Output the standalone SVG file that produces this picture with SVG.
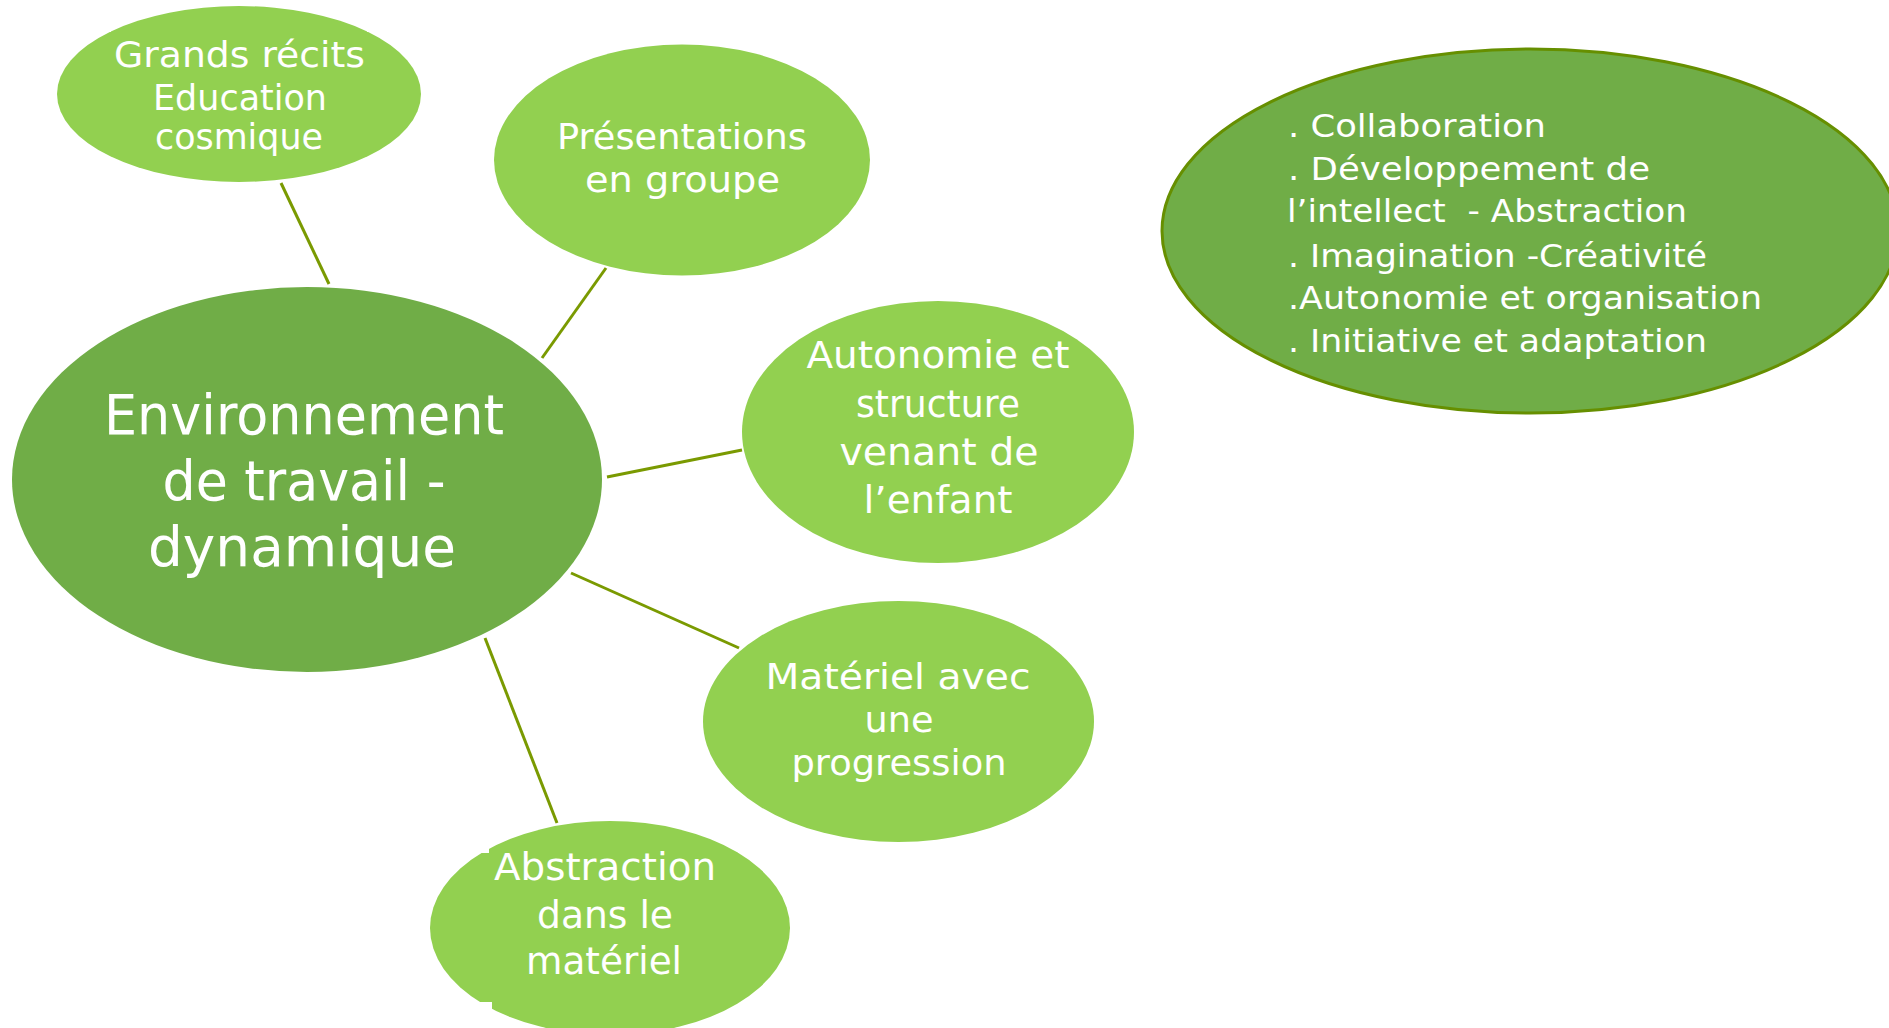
<svg xmlns="http://www.w3.org/2000/svg" width="1889" height="1028" viewBox="0 0 1889 1028">
<style>
.bg{fill:#ffffff}
.dark{fill:#70AD47}
.light{fill:#92D050}
.side{fill:#70AD47;stroke:#668F00;stroke-width:3}
.notch{fill:#ffffff}
.conn line{stroke:#7A9A01;stroke-width:3;stroke-linecap:butt}
text{font-family:"DejaVu Sans","Liberation Sans",sans-serif;fill:#ffffff}
.c{text-anchor:middle}
.t35{font-size:35px}
.t37{font-size:37px}
.t55{font-size:55px}
.t32{font-size:32px}
</style>
<rect class="bg" x="0" y="0" width="1889" height="1028"/>
<g id="connectors" class="conn">
<line x1="281" y1="183" x2="329" y2="284"/>
<line x1="606" y1="268" x2="542" y2="358"/>
<line x1="607" y1="477" x2="742" y2="450"/>
<line x1="571" y1="573" x2="739" y2="648"/>
<line x1="485" y1="638" x2="557" y2="823"/>
</g>
<g id="center">
<ellipse class="dark" cx="307" cy="479.5" rx="295" ry="192.5"/>
<text class="c t55" x="304" y="434" textLength="400" lengthAdjust="spacingAndGlyphs">Environnement</text>
<text class="c t55" x="304" y="500" textLength="283" lengthAdjust="spacingAndGlyphs">de travail -</text>
<text class="c t55" x="302" y="566" textLength="308" lengthAdjust="spacingAndGlyphs">dynamique</text>
</g>
<g id="n-grands-recits">
<ellipse class="light" cx="239" cy="94" rx="182" ry="88"/>
<rect class="notch" x="103" y="26" width="8" height="6"/>
<rect class="notch" x="367" y="26" width="8" height="6"/>
<rect class="notch" x="103" y="157" width="8" height="6"/>
<rect class="notch" x="367" y="157" width="8" height="6"/>
<text class="c t35" x="239.5" y="67" textLength="251" lengthAdjust="spacingAndGlyphs">Grands récits</text>
<text class="c t35" x="240" y="110" textLength="174" lengthAdjust="spacingAndGlyphs">Education</text>
<text class="c t35" x="239" y="148.5" textLength="168" lengthAdjust="spacingAndGlyphs">cosmique</text>
</g>
<g id="n-presentations">
<ellipse class="light" cx="682" cy="160" rx="188" ry="115.5"/>
<rect class="notch" x="541" y="72" width="8" height="6"/>
<rect class="notch" x="815" y="72" width="8" height="6"/>
<rect class="notch" x="541" y="242" width="8" height="6"/>
<rect class="notch" x="815" y="242" width="8" height="6"/>
<text class="c t35" x="682" y="148.5" textLength="250" lengthAdjust="spacingAndGlyphs">Présentations</text>
<text class="c t35" x="682.5" y="191.5" textLength="195" lengthAdjust="spacingAndGlyphs">en groupe</text>
</g>
<g id="n-autonomie">
<ellipse class="light" cx="938" cy="432" rx="196" ry="131"/>
<rect class="notch" x="792" y="333" width="8" height="6"/>
<rect class="notch" x="1077" y="333" width="8" height="6"/>
<rect class="notch" x="792" y="525" width="8" height="6"/>
<rect class="notch" x="1077" y="525" width="8" height="6"/>
<text class="c t37" x="938" y="368" textLength="263" lengthAdjust="spacingAndGlyphs">Autonomie et</text>
<text class="c t37" x="938" y="416.5" textLength="164" lengthAdjust="spacingAndGlyphs">structure</text>
<text class="c t37" x="939" y="465" textLength="199" lengthAdjust="spacingAndGlyphs">venant de</text>
<text class="c t37" x="938" y="513" textLength="149" lengthAdjust="spacingAndGlyphs">l’enfant</text>
</g>
<g id="n-materiel">
<ellipse class="light" cx="898.5" cy="721.5" rx="195.5" ry="120.5"/>
<rect class="notch" x="752" y="630" width="8" height="6"/>
<rect class="notch" x="1037" y="630" width="8" height="6"/>
<rect class="notch" x="752" y="807" width="8" height="6"/>
<rect class="notch" x="1037" y="807" width="8" height="6"/>
<text class="c t35" x="898" y="688.5" textLength="265" lengthAdjust="spacingAndGlyphs">Matériel avec</text>
<text class="c t35" x="899" y="731.5" textLength="69" lengthAdjust="spacingAndGlyphs">une</text>
<text class="c t35" x="899" y="775" textLength="215" lengthAdjust="spacingAndGlyphs">progression</text>
</g>
<g id="n-abstraction">
<ellipse class="light" cx="610" cy="928" rx="180" ry="107"/>
<rect class="notch" x="481" y="847" width="8" height="6"/>
<rect class="notch" x="738" y="847" width="8" height="6"/>
<rect class="notch" x="480" y="1002" width="12" height="7"/>
<text class="c t37" x="605" y="879.5" textLength="222" lengthAdjust="spacingAndGlyphs">Abstraction</text>
<text class="c t37" x="605" y="927.5" textLength="136" lengthAdjust="spacingAndGlyphs">dans le</text>
<text class="c t37" x="604" y="973.5" textLength="156" lengthAdjust="spacingAndGlyphs">matériel</text>
</g>
<g id="n-competences">
<ellipse class="side" cx="1530" cy="231" rx="368" ry="182"/>
<text class="t32" x="1288" y="136.7" textLength="258" lengthAdjust="spacingAndGlyphs">. Collaboration</text>
<text class="t32" x="1288" y="180" textLength="362" lengthAdjust="spacingAndGlyphs">. Développement de</text>
<text class="t32" x="1287" y="221.7" textLength="400" lengthAdjust="spacingAndGlyphs" xml:space="preserve">l’intellect  - Abstraction</text>
<text class="t32" x="1288" y="266.7" textLength="419" lengthAdjust="spacingAndGlyphs">. Imagination -Créativité</text>
<text class="t32" x="1288" y="309" textLength="474" lengthAdjust="spacingAndGlyphs">.Autonomie et organisation</text>
<text class="t32" x="1288" y="351.7" textLength="419" lengthAdjust="spacingAndGlyphs">. Initiative et adaptation</text>
</g>
</svg>
